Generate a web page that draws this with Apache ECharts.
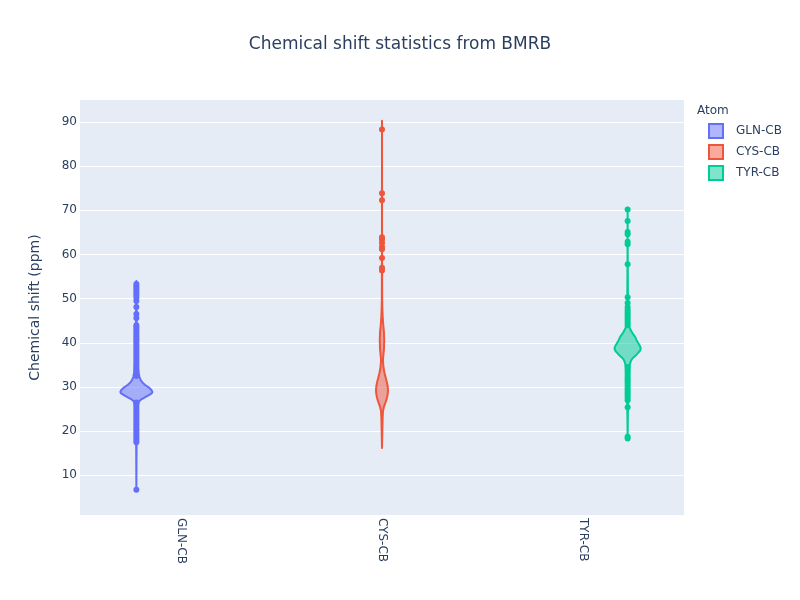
<!DOCTYPE html>
<html><head><meta charset="utf-8">
<script src="https://cdn.jsdelivr.net/npm/echarts@6/dist/echarts.min.js"></script>
<style>html,body{margin:0;padding:0;background:#fff}#c{width:800px;height:600px}</style>
</head><body><div id="c"></div>
<script>
const atoms = ['GLN-CB', 'CYS-CB', 'TYR-CB'];
const yTicks = [10, 20, 30, 40, 50, 60, 70, 80, 90];

// violin outlines: [chemical shift, relative density]
const glnProfile = [[6.5,0],[15,0.01],[20,0.02],[24,0.05],[26,0.1],[26.7,0.16],[27.2,0.31],[27.7,0.56],[28.2,0.81],[28.6,0.97],[28.9,1],[29.3,0.94],[29.8,0.81],[30.1,0.69],[30.5,0.53],[30.9,0.41],[31.5,0.28],[32.3,0.19],[33.5,0.12],[36,0.07],[40,0.04],[45,0.02],[53.5,0.003],[54,0]];
const cysProfile = [[16.2,0],[20,0.02],[23,0.04],[24.5,0.06],[25.5,0.12],[26.5,0.22],[27.5,0.31],[28.5,0.36],[29.3,0.375],[30,0.36],[31,0.31],[32,0.24],[33,0.17],[34,0.11],[35,0.08],[36.1,0.06],[37,0.08],[38.5,0.12],[40.5,0.14],[42.5,0.12],[44,0.08],[46,0.04],[48,0.02],[50,0.01],[60,0.003],[90.3,0]];
const tyrProfile = [[18,0],[22,0.01],[25,0.02],[27,0.04],[30,0.06],[33,0.08],[34.6,0.12],[35.4,0.16],[36,0.22],[36.5,0.31],[37,0.47],[37.6,0.63],[38.2,0.77],[38.7,0.82],[39.3,0.77],[39.9,0.67],[40.6,0.56],[41.4,0.46],[42.2,0.3],[42.9,0.19],[43.5,0.12],[44,0.08],[46,0.04],[50,0.02],[60,0.005],[70.6,0]];

// outlier points
const glnPoints = [6.7,17.5,18,18.5,19,19.5,20,20.5,21,21.5,22,22.5,23,23.5,24,24.5,25,25.5,26,26.5,32.5,33,33.5,34,34.5,35,35.5,36,36.5,37,37.5,38,38.5,39,39.5,40,40.5,41,41.5,42,42.5,43,43.5,44,45.6,46.5,48.1,49.5,50.2,50.8,51.3,51.8,52.3,52.8,53.3];
const cysPoints = [56.4,57.0,59.2,61.2,61.7,62.6,63.4,63.9,72.3,73.9,88.3];
const tyrPoints = [18.3,18.7,25.4,27,27.5,28,28.5,29,29.5,30,30.5,31,31.5,32,32.5,33,33.5,34,34.5,44,44.5,45,45.5,46,46.5,47,47.5,48.1,49,50.3,57.8,62.3,62.9,64.6,65.1,67.6,70.2];

const profiles = [glnProfile, cysProfile, tyrProfile];
const points = [glnPoints, cysPoints, tyrPoints];

const colors = ['#636efa', '#ef553b', '#00cc96'];
const fills = ['rgba(99,110,250,0.5)', 'rgba(239,85,59,0.5)', 'rgba(0,204,150,0.5)'];
const offsets = [-0.22, 0, 0.22];
const widthScale = 0.0795;
const FONT = '"DejaVu Sans", Verdana, sans-serif';
const TXT = '#2a3f5f';

const series = [];
atoms.forEach(function (name, i) {
  const prof = profiles[i];
  series.push({
    type: 'custom', name: name, z: 2, silent: true,
    data: [[i, prof[0][0]]],
    renderItem: function (params, api) {
      const bw = api.size([1, 0])[0];
      const cx = api.coord([i, 0])[0] + offsets[i] * bw;
      const right = [], left = [];
      prof.forEach(function (p) {
        const y = api.coord([i, p[0]])[1];
        const hw = p[1] * bw * widthScale;
        right.push([cx + hw, y]);
        left.push([cx - hw, y]);
      });
      return {
        type: 'polygon',
        shape: { points: right.concat(left.reverse()) },
        style: { fill: fills[i], stroke: colors[i], lineWidth: 2, lineJoin: 'round' }
      };
    }
  });
  series.push({
    type: 'custom', name: name, z: 3, silent: true,
    data: points[i].map(function (v) { return [i, v]; }),
    renderItem: function (params, api) {
      const bw = api.size([1, 0])[0];
      const c = api.coord([i, api.value(1)]);
      return {
        type: 'circle',
        shape: { cx: c[0] + offsets[i] * bw, cy: c[1], r: 3 },
        style: { fill: colors[i] }
      };
    }
  });
});

const chart = echarts.init(document.getElementById('c'), null, { renderer: 'canvas' });
chart.setOption({
  animation: false,
  backgroundColor: '#ffffff',
  title: [
    { text: 'Chemical shift statistics from BMRB', left: 'center', top: 36, padding: 0,
      textStyle: { fontSize: 17, fontWeight: 'normal', color: TXT, fontFamily: FONT } },
    { text: 'Atom', left: 697, top: 105, padding: 0,
      textStyle: { fontSize: 12, fontWeight: 'normal', color: TXT, fontFamily: FONT } }
  ],
  legend: {
    orient: 'vertical', left: 708, top: 123, padding: 0,
    itemWidth: 14, itemHeight: 14, itemGap: 5,
    textStyle: { fontSize: 12, color: TXT, fontFamily: FONT, padding: [0, 0, 0, 8] },
    data: atoms.map(function (n, i) {
      return { name: n, icon: 'rect', itemStyle: { color: fills[i], borderColor: colors[i], borderWidth: 2 } };
    })
  },
  grid: { left: 80, right: 116, top: 100, bottom: 85, show: true, backgroundColor: '#E5ECF6', borderWidth: 0 },
  xAxis: {
    type: 'category', data: atoms,
    axisLine: { show: false }, axisTick: { show: false }, splitLine: { show: false },
    axisLabel: { rotate: -90, margin: 3, fontSize: 12, color: TXT, fontFamily: FONT }
  },
  yAxis: {
    type: 'value', min: 1, max: 95,
    name: 'Chemical shift (ppm)', nameLocation: 'middle', nameRotate: 90, nameGap: 38,
    nameTextStyle: { fontSize: 14, color: TXT, fontFamily: FONT },
    axisLine: { show: false },
    axisTick: { show: false, customValues: yTicks },
    axisLabel: { customValues: yTicks, margin: 3, fontSize: 12, color: TXT, fontFamily: FONT },
    splitLine: { show: true, lineStyle: { color: '#ffffff', width: 1 } }
  },
  series: series
});
</script></body></html>
